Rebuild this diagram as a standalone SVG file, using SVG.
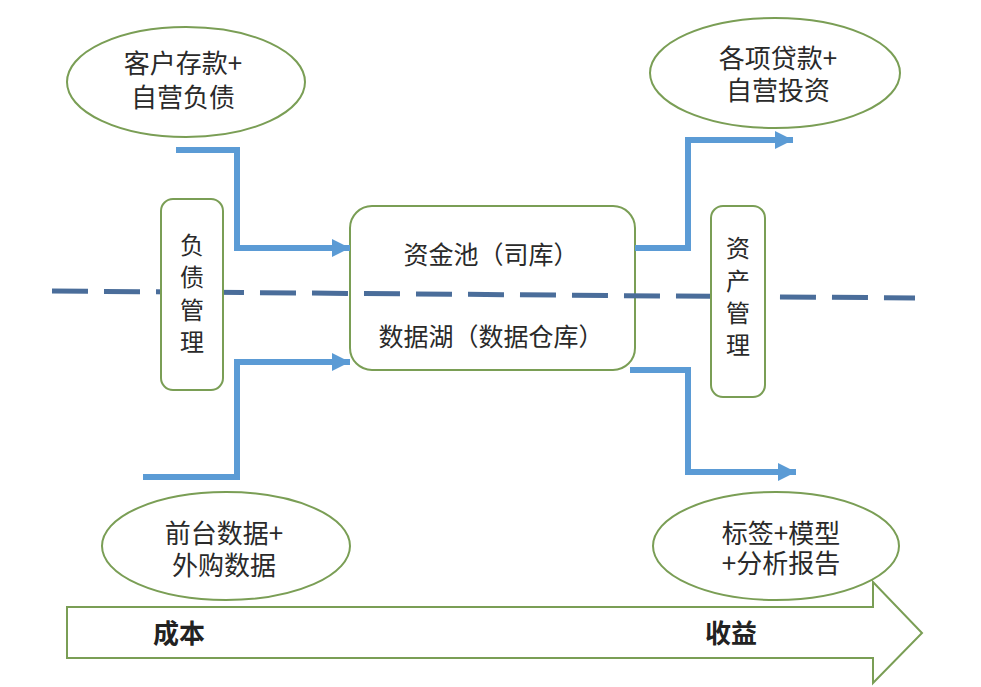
<svg xmlns="http://www.w3.org/2000/svg" width="981" height="687" viewBox="0 0 981 687">
<defs>
<style>
.node{fill:#fff;stroke:#7a9e55;stroke-width:2}
.t{font-family:"Noto Sans CJK SC","Noto Sans",sans-serif;fill:#2a2a2a;text-anchor:middle}
.e{font-size:26px}
.c{font-size:25px}
.v{font-size:24px}
.b{font-size:26px;font-weight:bold;fill:#222;text-anchor:start}
.flow{fill:none;stroke:#5b9bd5;stroke-width:6;marker-end:url(#ah)}
</style>
<marker id="ah" markerUnits="userSpaceOnUse" markerWidth="20" markerHeight="20" refX="18" refY="9" orient="auto">
<path d="M0,0 L18,9 L0,18 Z" fill="#5b9bd5"/>
</marker>
</defs>
<rect width="981" height="687" fill="#fff"/>
<g id="arrow-cost-benefit">
<path d="M67,607 L873,607 L873,582 L922,633 L873,683 L873,658 L67,658 Z" fill="#fff" stroke="#7a9e55" stroke-width="2"/>
<text class="t b" x="153" y="643">成本</text>
<text class="t b" x="705" y="643">收益</text>
</g>
<g id="pool">
<rect class="node" x="350" y="206" width="285" height="164" rx="22" ry="22"/>
</g>
<g id="divider">
<line x1="52" y1="291" x2="915" y2="298" stroke="#4a6d9a" stroke-width="5" stroke-dasharray="36,16"/>
</g>
<g id="pool-text">
<text class="t c" x="491" y="264">资金池（司库）</text>
<text class="t c" x="491" y="346">数据湖（数据仓库）</text>
</g>
<g id="connectors">
<path class="flow" d="M176,150 L237,150 L237,248 L350,248"/>
<path class="flow" d="M143,477 L237,477 L237,362 L350,362"/>
<path class="flow" d="M635,248 L688,248 L688,140 L793,140"/>
<path class="flow" d="M630,370 L688,370 L688,472 L796,472"/>
</g>
<g id="liability-mgmt">
<rect class="node" x="161" y="199" width="62" height="191" rx="12" ry="12"/>
<text class="t v" x="192" y="254">负</text>
<text class="t v" x="192" y="286">债</text>
<text class="t v" x="192" y="319">管</text>
<text class="t v" x="192" y="351">理</text>
</g>
<g id="asset-mgmt">
<rect class="node" x="711" y="206" width="54" height="191" rx="12" ry="12"/>
<text class="t v" x="738" y="257">资</text>
<text class="t v" x="738" y="290">产</text>
<text class="t v" x="738" y="322">管</text>
<text class="t v" x="738" y="354">理</text>
</g>
<g id="deposits">
<ellipse class="node" cx="186" cy="82" rx="119" ry="55"/>
<text class="t e" x="183" y="73">客户存款+</text>
<text class="t e" x="183" y="107">自营负债</text>
</g>
<g id="loans">
<ellipse class="node" cx="775" cy="73" rx="125" ry="55"/>
<text class="t e" x="778" y="68">各项贷款+</text>
<text class="t e" x="778" y="100">自营投资</text>
</g>
<g id="data-sources">
<ellipse class="node" cx="226" cy="546" rx="124" ry="54"/>
<text class="t e" x="224" y="543">前台数据+</text>
<text class="t e" x="224" y="575">外购数据</text>
</g>
<g id="outputs">
<ellipse class="node" cx="776" cy="546" rx="123" ry="54"/>
<text class="t e" x="781" y="543">标签+模型</text>
<text class="t e" x="781" y="573">+分析报告</text>
</g>
</svg>
